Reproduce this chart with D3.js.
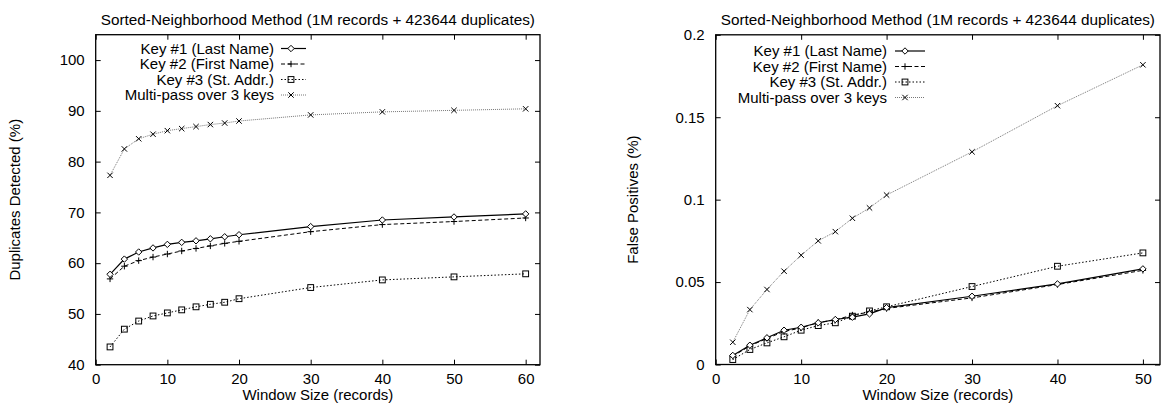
<!DOCTYPE html>
<html><head><meta charset="utf-8">
<script src="https://cdn.jsdelivr.net/npm/d3@7"></script>
<style>
body{margin:0;background:#fff;}
svg text{font-family:"Liberation Sans",Arial,sans-serif;fill:#000;}
</style></head>
<body><svg id="c" width="1161" height="406"></svg>
<script>
const titleText = "Sorted-Neighborhood Method (1M records + 423644 duplicates)";
const seriesNames = ["Key #1 (Last Name)", "Key #2 (First Name)", "Key #3 (St. Addr.)", "Multi-pass over 3 keys"];

const windowsLeft = [2,4,6,8,10,12,14,16,18,20,30,40,50,60];
const dupKey1 = [57.8,60.8,62.2,63.0,63.7,64.1,64.4,64.8,65.2,65.6,67.2,68.5,69.1,69.7];
const dupKey2 = [56.9,59.4,60.5,61.2,61.8,62.4,62.9,63.4,63.9,64.3,66.2,67.6,68.2,68.9];
const dupKey3 = [43.5,47.0,48.6,49.6,50.2,50.8,51.4,51.9,52.3,53.0,55.2,56.7,57.3,57.9];
const dupMulti = [77.3,82.5,84.5,85.4,86.1,86.5,86.9,87.3,87.6,88.0,89.2,89.8,90.1,90.4];

const windowsRight = [2,4,6,8,10,12,14,16,18,20,30,40,50];
const fpKey1 = [0.0055,0.0117,0.0162,0.0208,0.0226,0.0253,0.0273,0.0287,0.0307,0.0345,0.0414,0.0489,0.0580];
const fpKey2 = [0.0050,0.0113,0.0158,0.0200,0.0222,0.0255,0.0270,0.0300,0.0318,0.0340,0.0404,0.0485,0.0571];
const fpKey3 = [0.0030,0.0091,0.0131,0.0168,0.0208,0.0236,0.0253,0.0293,0.0325,0.0350,0.0473,0.0596,0.0677];
const fpMulti = [0.0135,0.0333,0.0455,0.0566,0.0663,0.0750,0.0806,0.0887,0.0950,0.1028,0.1290,0.1570,0.1818];

const xTicksLeft = [0,10,20,30,40,50,60];
const yTicksLeft = [40,50,60,70,80,90,100];
const xTicksRight = [0,10,20,30,40,50];
const yTicksRight = [0,0.05,0.1,0.15,0.2];

const FS = 15;
const styles = [
  {dash:null, color:"#000", width:1.2, marker:"diamond"},
  {dash:"4,2.5", color:"#000", width:1, marker:"plus"},
  {dash:"1.5,2", color:"#000", width:1, marker:"square"},
  {dash:"1,1", color:"#777", width:1, marker:"cross"}
];

const svg = d3.select("#c");

function marker(g, type, x, y){
  const s = 3.2;
  if(type==="diamond"){
    g.append("path").attr("d",`M${x},${y-s}L${x+s},${y}L${x},${y+s}L${x-s},${y}Z`)
     .attr("fill","#fff").attr("stroke","#000").attr("stroke-width",1);
  } else if(type==="plus"){
    g.append("path").attr("d",`M${x-s},${y}H${x+s}M${x},${y-s}V${y+s}`)
     .attr("stroke","#000").attr("stroke-width",1);
  } else if(type==="square"){
    g.append("rect").attr("x",x-s+0.3).attr("y",y-s+0.3).attr("width",2*s-0.6).attr("height",2*s-0.6)
     .attr("fill","none").attr("stroke","#000").attr("stroke-width",1);
  } else {
    const t=2.7;
    g.append("path").attr("d",`M${x-t},${y-t}L${x+t},${y+t}M${x-t},${y+t}L${x+t},${y-t}`)
     .attr("stroke","#000").attr("stroke-width",1);
  }
}

function panel(opt){
  const {left,right,top,bottom,xDom,yDom,xTicks,yTicks,xs,series,yLabel,yLabelX,yFmt,legend} = opt;
  const x = d3.scaleLinear().domain(xDom).range([left,right]);
  const y = d3.scaleLinear().domain(yDom).range([bottom,top]);
  const g = svg.append("g");
  const tl = 5;
  g.append("g").attr("transform",`translate(0,${bottom})`)
    .call(d3.axisBottom(x).tickValues(xTicks).tickSize(-tl).tickFormat(d3.format("d")).tickPadding(9))
    .call(a=>{a.select(".domain").remove();a.selectAll("text").attr("font-size",FS).attr("dy","0.71em");});
  g.append("g").attr("transform",`translate(0,${top})`)
    .call(d3.axisTop(x).tickValues(xTicks).tickSize(-tl).tickFormat(""))
    .call(a=>a.select(".domain").remove());
  g.append("g").attr("transform",`translate(${left},0)`)
    .call(d3.axisLeft(y).tickValues(yTicks).tickSize(-tl).tickFormat(yFmt).tickPadding(11))
    .call(a=>{a.select(".domain").remove();a.selectAll("text").attr("font-size",FS);});
  g.append("g").attr("transform",`translate(${right},0)`)
    .call(d3.axisRight(y).tickValues(yTicks).tickSize(-tl).tickFormat(""))
    .call(a=>a.select(".domain").remove());
  g.selectAll(".tick line").attr("stroke","#000").attr("stroke-width",1);
  g.selectAll(".tick text").attr("fill","#000").attr("font-family","Liberation Sans, Arial, sans-serif");
  g.append("rect").attr("x",left).attr("y",top).attr("width",right-left).attr("height",bottom-top)
    .attr("fill","none").attr("stroke","#000").attr("stroke-width",1.3);

  const line = d3.line().x((d,i)=>x(xs[i])).y(d=>y(d));
  [3,2,1,0].forEach(k=>{
    const st = styles[k];
    g.append("path").attr("d",line(series[k])).attr("fill","none")
      .attr("stroke",st.color).attr("stroke-width",st.width).attr("stroke-dasharray",st.dash);
    const mg = g.append("g");
    series[k].forEach((v,i)=>marker(mg, st.marker, x(xs[i]), y(v)));
  });

  svg.append("text").attr("x",(left+right)/2).attr("y",top-10).attr("text-anchor","middle")
    .attr("font-size",FS+0.3).text(titleText);
  svg.append("text").attr("x",(left+right)/2).attr("y",bottom+35).attr("text-anchor","middle")
    .attr("font-size",FS).text("Window Size (records)");
  svg.append("text").attr("transform",`translate(${yLabelX},${(top+bottom)/2}) rotate(-90)`)
    .attr("text-anchor","middle").attr("font-size",FS).text(yLabel);

  seriesNames.forEach((name,k)=>{
    const ly = legend.y0 + k*legend.dy;
    const st = styles[k];
    svg.append("text").attr("x",legend.tx).attr("y",ly).attr("dy","0.35em")
      .attr("text-anchor","end").attr("font-size",FS).text(name);
    svg.append("line").attr("x1",legend.sx0).attr("x2",legend.sx1).attr("y1",ly).attr("y2",ly)
      .attr("stroke",st.color).attr("stroke-width",st.width).attr("stroke-dasharray",st.dash);
    marker(svg, st.marker, legend.mx, ly);
  });
}

panel({left:95.7,right:540,top:34.7,bottom:364.7,xDom:[0,62],yDom:[40,105],
  xTicks:xTicksLeft,yTicks:yTicksLeft,xs:windowsLeft,
  series:[dupKey1,dupKey2,dupKey3,dupMulti],
  yLabel:"Duplicates Detected (%)",yLabelX:20,yFmt:d3.format("d"),
  legend:{tx:274,sx0:281,sx1:306,mx:291,y0:48.5,dy:15.5}});

panel({left:715.7,right:1160,top:34.8,bottom:364.5,xDom:[0,52],yDom:[0,0.2],
  xTicks:xTicksRight,yTicks:yTicksRight,xs:windowsRight,
  series:[fpKey1,fpKey2,fpKey3,fpMulti],
  yLabel:"False Positives (%)",yLabelX:638,yFmt:d=>d===0?"0":String(d),
  legend:{tx:887,sx0:895,sx1:925,mx:905,y0:51,dy:15.5}});
</script></body></html>
